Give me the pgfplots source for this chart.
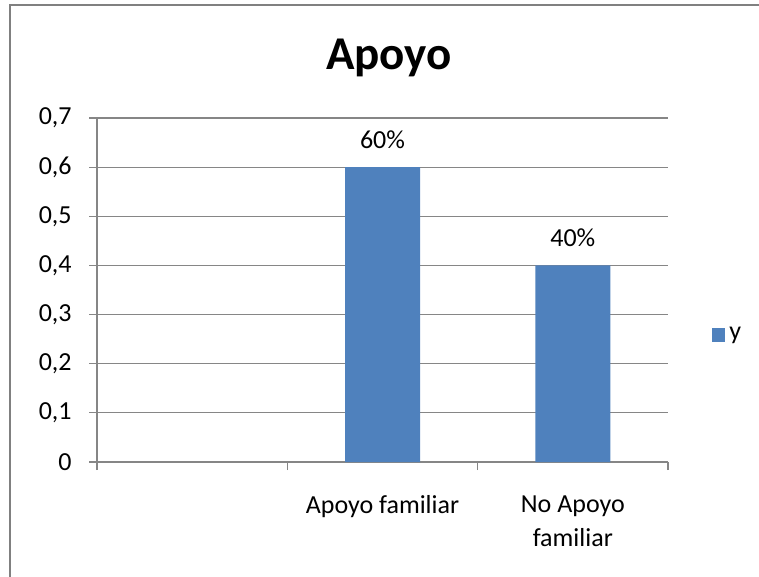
\documentclass[border=0pt]{standalone}
\usepackage{pgfplots}
\pgfplotsset{compat=1.18}
\usepackage{fontspec}
\setmainfont{Carlito}
\definecolor{barblue}{RGB}{79,129,189}
\definecolor{gridgray}{RGB}{134,134,134}
\definecolor{framegray}{RGB}{128,128,128}
\begin{document}
\begin{tikzpicture}
\path[use as bounding box] (0,0) rectangle (379.5pt,-288.5pt);
% chart-area frame (only its left and top edges fall inside the page)
\begin{scope}
  \clip (0,0) rectangle (379.5pt,-288.5pt);
  \draw[framegray, line width=1pt] (5pt,-300pt) -- (5pt,-2.5pt) -- (400pt,-2.5pt);
\end{scope}
\node[font=\fontsize{23.5}{28}\selectfont\bfseries, anchor=base, inner sep=0pt] at (194.5pt,-35pt) {Apoyo};
\begin{axis}[
  scale only axis, width=285.5pt, height=172pt,
  at={(48.5pt,-231pt)}, anchor=south west,
  xmin=0, xmax=3, ymin=0, ymax=0.7,
  ytick={0,0.1,0.2,0.3,0.4,0.5,0.6,0.7},
  xtick={0,1,2,3},
  x tick label as interval,
  xticklabels={,Apoyo familiar,{No Apoyo\\[1.5pt]familiar}},
  axis x line*=bottom, axis y line*=left,
  axis line style={gridgray, line width=0.6pt, -},
  tick style={gridgray, line width=0.6pt},
  tick align=outside, major tick length=4pt,
  ymajorgrids, grid style={gridgray, line width=0.6pt},
  /pgf/number format/use comma,
  /pgf/number format/assume math mode=true,
  ticklabel style={font=\fontsize{13}{15.5}\selectfont, text=black},
  yticklabel style={inner sep=0pt, xshift=-8.5pt},
  xticklabel style={align=center, inner sep=0pt, yshift=-12.5pt},
  legend style={at={(1.077,0.369)}, anchor=west, draw=none, fill=none,
    inner sep=0pt, font=\fontsize{13}{15.5}\selectfont},
  legend image code/.code={\fill[barblue] (0pt,-3.3pt) rectangle (6.5pt,3.3pt);},
]
\addplot[ybar, bar width=37.5pt, fill=barblue, draw=none,
  point meta={y*100},
  nodes near coords={\pgfmathprintnumber{\pgfplotspointmeta}\%},
  nodes near coords style={font=\fontsize{13}{15.5}\selectfont, text=black,
    anchor=base, inner sep=0pt, yshift=9.5pt}]
  coordinates {(1.5,0.6) (2.5,0.4)};
\addlegendentry{y}
\end{axis}
\end{tikzpicture}
\end{document}
